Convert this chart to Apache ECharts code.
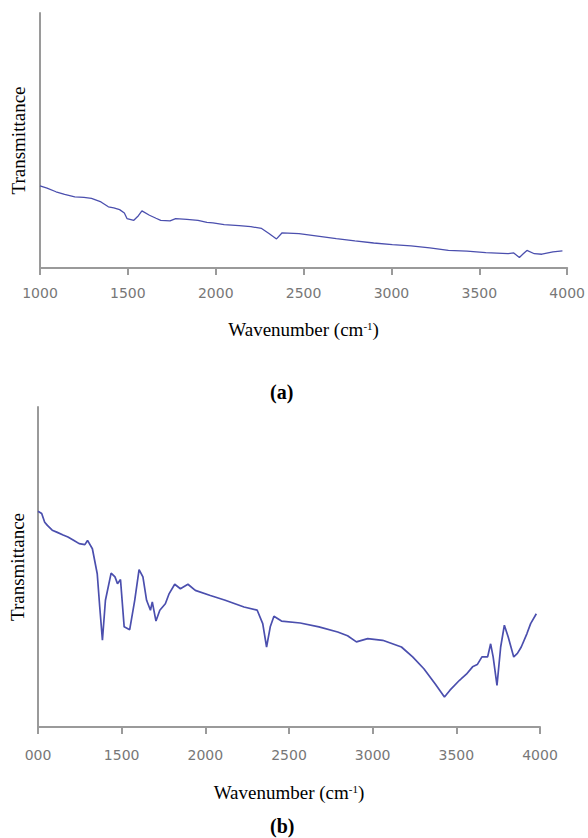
<!DOCTYPE html>
<html>
<head>
<meta charset="utf-8">
<script src="https://cdn.jsdelivr.net/npm/echarts@6/dist/echarts.min.js"></script>
<style>
  html, body { margin: 0; padding: 0; background: #fff; }
  #chart { width: 588px; height: 838px; }
</style>
</head>
<body>
<div id="chart"></div>
<script>
// tick positions and the labels printed under them
const tickValues = [1000, 1500, 2000, 2500, 3000, 3500, 4000]
const tickLabelsA = ['1000', '1500', '2000', '2500', '3000', '3500', '4000']
const tickLabelsB = ['000', '1500', '2000', '2500', '3000', '3500', '4000']

// spectrum (a) - transmittance in arbitrary units (0 = x axis, 100 = axis top)
const wavenumberA = [1000, 1040, 1091, 1140, 1198, 1250, 1293, 1347, 1389, 1420, 1453, 1480, 1495, 1534,
  1560, 1580, 1623, 1660, 1687, 1740, 1772, 1836, 1899, 1950, 1984, 2048, 2133, 2200, 2261, 2303,
  2346, 2378, 2474, 2580, 2686, 2792, 2899, 3005, 3111, 3218, 3324, 3430, 3537, 3600, 3664, 3696,
  3728, 3750, 3771, 3813, 3856, 3919, 3973]
const transA = [32.2, 31.3, 29.9, 28.9, 27.9, 27.7, 27.3, 25.9, 24.0, 23.6, 22.9, 21.6, 19.4, 18.7,
  20.5, 22.4, 20.7, 19.5, 18.7, 18.5, 19.4, 19.1, 18.7, 17.9, 17.7, 17.0, 16.6, 16.2, 15.5, 13.5,
  11.4, 13.8, 13.5, 12.5, 11.5, 10.6, 9.8, 9.2, 8.7, 7.9, 6.9, 6.6, 6.0, 5.8, 5.6, 5.9,
  4.1, 5.6, 6.9, 5.6, 5.4, 6.3, 6.7]

// spectrum (b)
const wavenumberB = [1000, 1022, 1040, 1056, 1085, 1112, 1150, 1179, 1215, 1246, 1280, 1296, 1325, 1354,
  1369, 1385, 1403, 1437, 1460, 1475, 1493, 1515, 1548, 1578, 1604, 1627, 1649, 1672, 1683, 1705,
  1728, 1761, 1784, 1817, 1851, 1896, 1940, 2030, 2119, 2231, 2310, 2343, 2366, 2388, 2410, 2455,
  2567, 2679, 2791, 2850, 2903, 2970, 3060, 3172, 3239, 3306, 3373, 3429, 3462, 3519, 3530, 3560,
  3597, 3625, 3653, 3687, 3705, 3720, 3743, 3765, 3787, 3810, 3843, 3865, 3888, 3922, 3944, 3978]
const transB = [67.4, 66.7, 64.0, 63.0, 61.5, 60.9, 60.0, 59.4, 58.3, 57.3, 57.0, 58.3, 55.7, 47.9,
  37.5, 27.1, 39.6, 48.1, 46.9, 44.8, 46.1, 31.3, 30.4, 39.6, 49.2, 46.9, 39.6, 36.5, 39.1, 33.1,
  36.5, 38.5, 41.7, 44.6, 43.2, 44.6, 42.7, 41.1, 39.6, 37.5, 36.5, 32.3, 25.0, 31.3, 34.6, 33.1,
  32.5, 31.3, 29.7, 28.5, 26.6, 27.6, 27.1, 25.0, 21.9, 18.2, 13.5, 9.4, 11.5, 14.6, 15.1, 16.5,
  18.8, 19.5, 21.9, 21.9, 26.0, 21.9, 13.0, 25.0, 31.8, 28.1, 21.9, 23.0, 25.0, 29.2, 32.3, 35.4]

const lineColor = '#4b4fae'
const axisGray = '#9a9a9a'
const serif = '"Liberation Serif", "DejaVu Serif", serif'

const zip = (xs, ys) => xs.map((x, i) => [x, ys[i]])

const xAxisFor = (gridIndex, labels, nameGap, labelMargin) => ({
  type: 'value',
  gridIndex,
  min: 1000,
  max: 4000,
  interval: 500,
  axisLine: { lineStyle: { color: axisGray, width: 2 } },
  axisTick: { length: 7, lineStyle: { color: axisGray, width: 2 } },
  splitLine: { show: false },
  axisLabel: {
    margin: labelMargin,
    color: '#777',
    fontSize: 14,
    fontFamily: '"DejaVu Sans", sans-serif',
    formatter: v => labels[tickValues.indexOf(v)]
  },
  name: '{t|Wavenumber (cm}{s|-1}{t|)}',
  nameLocation: 'middle',
  nameGap,
  nameTextStyle: {
    rich: {
      t: { fontFamily: serif, fontSize: 19, color: '#000' },
      s: { fontFamily: serif, fontSize: 11, color: '#000', verticalAlign: 'top', padding: [0, 0, 8, 0] }
    }
  }
})

const yAxisFor = (gridIndex, nameGap) => ({
  type: 'value',
  gridIndex,
  min: 0,
  max: 100,
  axisLine: { show: true, lineStyle: { color: axisGray, width: 2 } },
  axisTick: { show: false },
  axisLabel: { show: false },
  splitLine: { show: false },
  name: 'Transmittance',
  nameLocation: 'middle',
  nameGap,
  nameTextStyle: { fontFamily: serif, fontSize: 19, color: '#000' }
})

const chart = echarts.init(document.getElementById('chart'), null, { renderer: 'svg' })

chart.setOption({
  animation: false,
  backgroundColor: '#fff',
  grid: [
    { left: 40, right: 20, top: 13, bottom: 570 },
    { left: 37, right: 48, top: 407, bottom: 111 }
  ],
  xAxis: [
    xAxisFor(0, tickLabelsA, 52, 18),
    xAxisFor(1, tickLabelsB, 56, 21)
  ],
  yAxis: [
    yAxisFor(0, 12),
    yAxisFor(1, 11)
  ],
  graphic: [
    {
      type: 'text', left: 270, top: 382,
      style: { text: '(a)', font: 'bold 20px ' + serif, fill: '#000' }
    },
    {
      type: 'text', left: 270, top: 816,
      style: { text: '(b)', font: 'bold 20px ' + serif, fill: '#000' }
    }
  ],
  series: [
    {
      type: 'line',
      xAxisIndex: 0,
      yAxisIndex: 0,
      data: zip(wavenumberA, transA),
      showSymbol: false,
      lineStyle: { color: lineColor, width: 1.3 }
    },
    {
      type: 'line',
      xAxisIndex: 1,
      yAxisIndex: 1,
      data: zip(wavenumberB, transB),
      showSymbol: false,
      lineStyle: { color: lineColor, width: 1.7 }
    }
  ]
})
</script>
</body>
</html>
